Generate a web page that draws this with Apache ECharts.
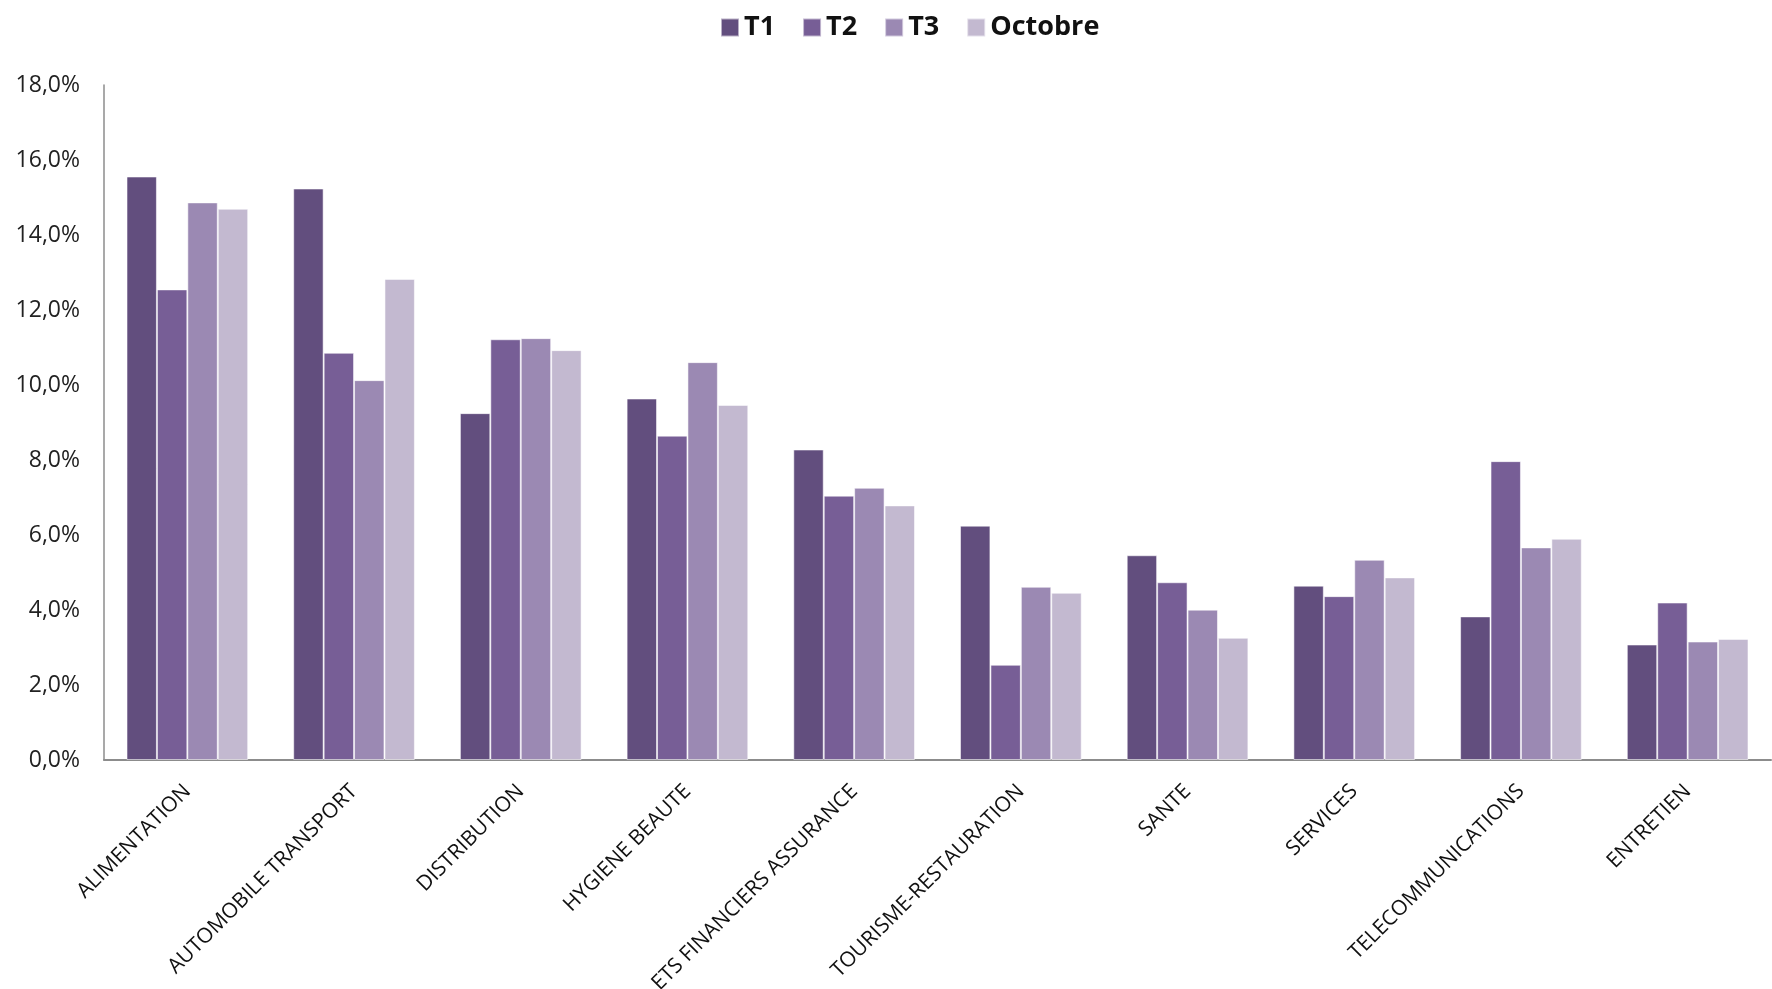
<!DOCTYPE html>
<html>
<head>
<meta charset="utf-8">
<script src="https://cdn.jsdelivr.net/npm/echarts@6/dist/echarts.min.js"></script>
<style>
  html, body { margin: 0; padding: 0; background: #ffffff; }
  #chart { width: 1772px; height: 989px; }
</style>
</head>
<body>
<div id="chart"></div>
<script>
// Sector shares (%) per period
const categories = [
  'ALIMENTATION', 'AUTOMOBILE TRANSPORT', 'DISTRIBUTION', 'HYGIENE BEAUTE',
  'ETS FINANCIERS ASSURANCE', 'TOURISME-RESTAURATION', 'SANTE', 'SERVICES',
  'TELECOMMUNICATIONS', 'ENTRETIEN'
];
const seriesNames = ['T1', 'T2', 'T3', 'Octobre'];
const t1      = [15.56, 15.24, 9.25, 9.64, 8.28, 6.25, 5.46, 4.65, 3.83, 3.08];
const t2      = [12.55, 10.86, 11.22, 8.65, 7.05, 2.54, 4.74, 4.37, 7.97, 4.20];
const t3      = [14.87, 10.13, 11.25, 10.61, 7.26, 4.62, 4.01, 5.34, 5.67, 3.16];
const octobre = [14.70, 12.83, 10.93, 9.47, 6.79, 4.46, 3.26, 4.87, 5.90, 3.23];
const yTicks = { min: 0, max: 18, interval: 2 };

const colors = ['#624e7e', '#775e96', '#9b89b3', '#c3b9d0'];
const values = [t1, t2, t3, octobre];

const chart = echarts.init(document.getElementById('chart'), null, { renderer: 'canvas' });

chart.setOption({
  backgroundColor: '#ffffff',
  animation: false,
  color: colors,
  legend: {
    data: seriesNames,
    left: 715,
    top: 9,
    itemWidth: 18,
    itemHeight: 18,
    itemGap: 27,
    icon: 'rect',
    textStyle: { fontFamily: 'Open Sans', fontWeight: 'bold', fontSize: 27, color: '#111' }
  },
  grid: { left: 104, right: 1, top: 85, bottom: 229, outerBoundsMode: 'none', containLabel: false },
  xAxis: {
    type: 'category',
    data: categories,
    axisLine: { lineStyle: { color: '#8c8c8c', width: 2 } },
    axisTick: { show: false },
    axisLabel: {
      interval: 0,
      rotate: 45,
      margin: 28,
      fontFamily: 'Open Sans',
      fontSize: 21,
      color: '#111'
    }
  },
  yAxis: {
    type: 'value',
    min: yTicks.min,
    max: yTicks.max,
    interval: yTicks.interval,
    splitLine: { show: false },
    axisLine: { show: true, lineStyle: { color: '#8c8c8c', width: 1.5 } },
    axisTick: { show: false },
    axisLabel: {
      margin: 24,
      fontFamily: 'Open Sans',
      fontSize: 23,
      color: '#222',
      formatter: v => v.toFixed(1).replace('.', ',') + '%'
    }
  },
  series: seriesNames.map((name, i) => ({
    name,
    type: 'bar',
    data: values[i],
    barGap: '0%',
    barCategoryGap: '27%',
    itemStyle: { color: colors[i], borderColor: 'rgba(255,255,255,0.55)', borderWidth: 1 }
  }))
});
</script>
</body>
</html>
